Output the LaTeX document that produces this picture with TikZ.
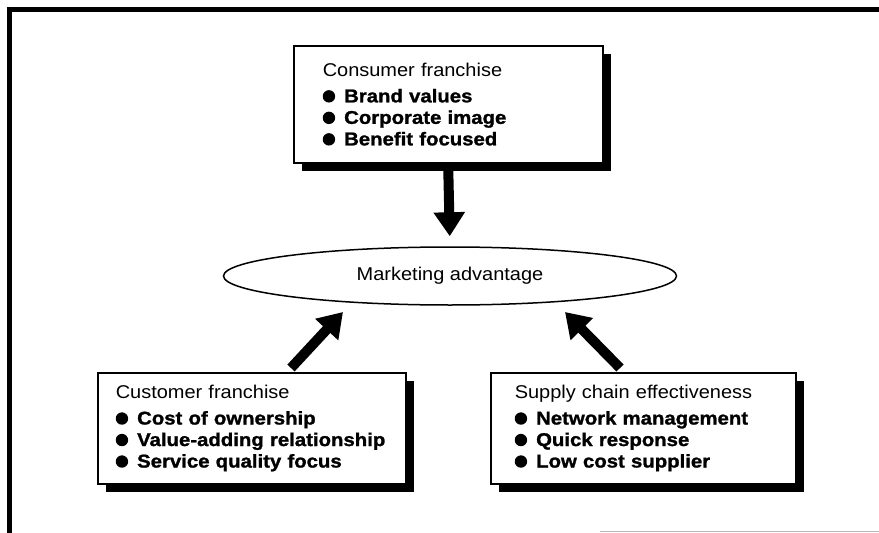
\documentclass[tikz,border=0pt]{standalone}
\usepackage{fontspec}
\setmainfont[FakeStretch=1.08, BoldFeatures={FakeStretch=1.1, FakeBold=1.3}]{Liberation Sans}
\usetikzlibrary{shapes.geometric,arrows.meta,shadows}
\hyphenpenalty=10000
\exhyphenpenalty=10000
\newcommand{\bul}{\tikz[baseline=0pt]\fill[black] (6pt,6pt) circle (6.2pt);\hspace{9pt}}
\newcommand{\itm}[1]{\bul\textbf{#1}}
\tikzset{
  frameline/.style={line width=5pt, black},
  box/.style={draw=black, line width=1.5pt, fill=white, anchor=north west,
    align=left, inner ysep=0pt,
    drop shadow={shadow xshift=8pt, shadow yshift=-8pt, fill=black, opacity=1},
    font=\fontsize{18.5}{21.5}\selectfont},
  goal/.style={ellipse, draw=black, line width=1.5pt, inner sep=0pt,
    font=\fontsize{18.5}{21.5}\selectfont},
  bigarrow/.style={line width=10pt, -{Triangle[width=30pt,length=24pt]}},
}
\begin{document}
\begin{tikzpicture}[x=1pt,y=-1pt]
\useasboundingbox (0,0) rectangle (879,533);
% frame
\draw[frameline] (9,6.5) -- (9,540);
\draw[frameline] (6.5,9) -- (885,9);
\draw[gray!55, line width=1pt] (600,531) -- (879,531);
% boxes
\node[box, minimum width=309pt, minimum height=117pt, inner xsep=29pt, text width=251pt] (topbox) at (293,45)
  {Consumer franchise\\[4.5pt]
   \itm{Brand values}\\
   \itm{Corporate image}\\
   \itm{Benefit focused}};
\node[box, minimum width=308pt, minimum height=111pt, inner xsep=18pt, text width=272pt] (leftbox) at (97,372)
  {Customer franchise\\[4.5pt]
   \itm{Cost of ownership}\\
   \itm{Value-adding relationship}\\
   \itm{Service quality focus}};
\node[box, minimum width=305pt, minimum height=111pt, inner xsep=24pt, text width=257pt] (rightbox) at (490,372)
  {Supply chain effectiveness\\[4.5pt]
   \itm{Network management}\\
   \itm{Quick response}\\
   \itm{Low cost supplier}};
% central ellipse
\node[goal, minimum width=453pt, minimum height=58pt] (ma) at (450,276) {Marketing advantage};
% arrows
\draw[bigarrow, shorten >=10pt] ([yshift=-5pt]topbox.south) -- (ma.north);
\draw[bigarrow] ([xshift=194pt,yshift=4pt]leftbox.north west) -- ([xshift=-107pt,yshift=-36pt]ma.center);
\draw[bigarrow] ([xshift=130pt,yshift=4pt]rightbox.north west) -- ([xshift=115pt,yshift=-36pt]ma.center);
\end{tikzpicture}
\end{document}
